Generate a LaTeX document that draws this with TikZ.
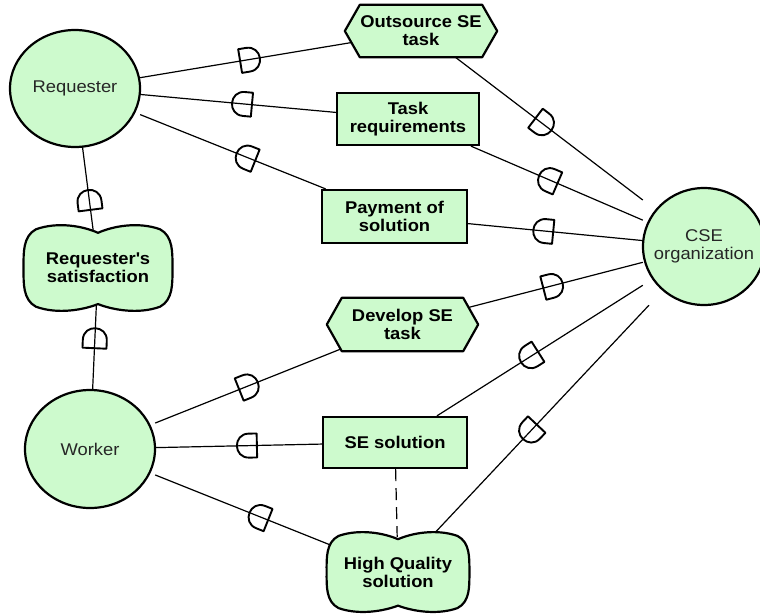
\documentclass[tikz,border=0pt]{standalone}
\usepackage{fontspec}
\setmainfont[FakeStretch=1.08]{Liberation Sans}
\usetikzlibrary{decorations.markings,shapes.geometric}
\pgfdeclarelayer{bg}
\pgfdeclarelayer{mid}
\pgfsetlayers{bg,mid,main}
\definecolor{ifill}{RGB}{205,250,205}
\tikzset{
  shapeline/.style={draw=black, fill=ifill, line width=2.2pt, line join=round},
  actor/.style={rectangle, inner sep=0pt, align=center, font=\fontsize{17}{18}\selectfont, text=black!85},
  dependum/.style={rectangle, inner sep=0pt, align=center, font=\bfseries\fontsize{17}{18}\selectfont},
  resbox/.style={dependum, draw=black, fill=ifill, line width=2.2pt},
  link/.style={line width=1.2pt},
  dmark/.style={line width=1.9pt, line join=round},
  dep/.style={postaction={decorate}, decoration={markings, mark=at position #1 with {\draw[dmark] (-10pt,-12pt) -- (-10pt,12pt) -- (-2pt,12pt) .. controls (14pt,12pt) and (14pt,-12pt) .. (-2pt,-12pt) -- cycle;}}},
  softgoal/.pic={\path[shapeline] (0,-0.8) .. controls (-0.2,-0.95) and (-0.55,-1.06) .. (-0.85,-0.88)
      .. controls (-1.03,-0.72) and (-1.02,-0.35) .. (-1.02,0)
      .. controls (-1.02,0.35) and (-1.03,0.72) .. (-0.85,0.88)
      .. controls (-0.55,1.06) and (-0.2,0.95) .. (0,0.82)
      .. controls (0.2,0.95) and (0.55,1.06) .. (0.85,0.88)
      .. controls (1.03,0.72) and (1.02,0.35) .. (1.02,0)
      .. controls (1.02,-0.35) and (1.03,-0.72) .. (0.85,-0.88)
      .. controls (0.55,-1.06) and (0.2,-0.95) .. (0,-0.8) -- cycle;}
}
\newcommand\hexof[2]{\path[shapeline] (#1.north west) -- (#1.north east) -- ([xshift=#2]#1.east) -- (#1.south east) -- (#1.south west) -- ([xshift=-#2]#1.west) -- cycle;}
\begin{document}
\begin{tikzpicture}[x=1pt,y=-1pt]
\useasboundingbox (0,0) rectangle (760,614);
% actors
\node[actor, minimum width=130pt, minimum height=117pt] (req) at (75,88.5) {Requester};
\node[actor, minimum width=130pt, minimum height=118pt] (wrk) at (90,449) {Worker};
\node[actor, minimum width=122pt, minimum height=117pt] (cse) at (704,246.5) {CSE\\organization};
% dependums
\node[dependum, minimum width=122pt, minimum height=52pt] (outs) at (421,31) {Outsource SE\\task};
\node[resbox, minimum width=142pt, minimum height=52pt] (treq) at (408,119) {Task\\requirements};
\node[resbox, minimum width=145pt, minimum height=53pt] (pay) at (394.5,216.5) {Payment of\\solution};
\node[dependum, minimum width=121pt, minimum height=53pt] (dev) at (402.5,324.5) {Develop SE\\task};
\node[resbox, minimum width=144pt, minimum height=51pt] (sesol) at (395,442.5) {SE solution};
\node[dependum, ellipse, minimum width=136pt, minimum height=74pt] (sat) at (98,268) {Requester\textquotesingle s\\satisfaction};
\node[dependum, ellipse, minimum width=132pt, minimum height=70pt] (hq) at (398,572) {High Quality\\solution};
% outlines
\begin{pgfonlayer}{mid}
\path[shapeline] (req.center) ellipse [x radius=65pt, y radius=58.5pt];
\path[shapeline] (wrk.center) ellipse [x radius=65pt, y radius=59pt];
\path[shapeline] (cse.center) ellipse [x radius=61pt, y radius=58.5pt];
\hexof{outs}{15pt}
\hexof{dev}{15pt}
\pic[xscale=73, yscale=44] at (sat.center) {softgoal};
\pic[xscale=70, yscale=41] at (hq.center) {softgoal};
\end{pgfonlayer}
% dependency links
\begin{pgfonlayer}{bg}
\draw[link, dep=0.5] (req) -- (outs);
\draw[link, dep=0.48] (treq) -- (req);
\draw[link, dep=0.43] (pay) -- (req);
\draw[link, dep=0.37] (sat) -- (req);
\draw[link, dep=0.61] (wrk) -- (sat);
\draw[link, dep=0.47] (outs) -- (cse);
\draw[link, dep=0.55] (cse) -- (treq);
\draw[link, dep=0.57] (cse) -- (pay);
\draw[link, dep=0.5] (wrk) -- (dev);
\draw[link, dep=0.5] (dev) -- (cse);
\draw[link, dep=0.45] (sesol) -- (wrk);
\draw[link, dep=0.55] (cse) -- (sesol);
\draw[link, dep=0.44] (hq) -- (wrk);
\draw[link, dep=0.54] (cse) -- (hq);
\draw[link, dash pattern=on 12pt off 7pt] (sesol) -- (hq);
\end{pgfonlayer}
\end{tikzpicture}
\end{document}
